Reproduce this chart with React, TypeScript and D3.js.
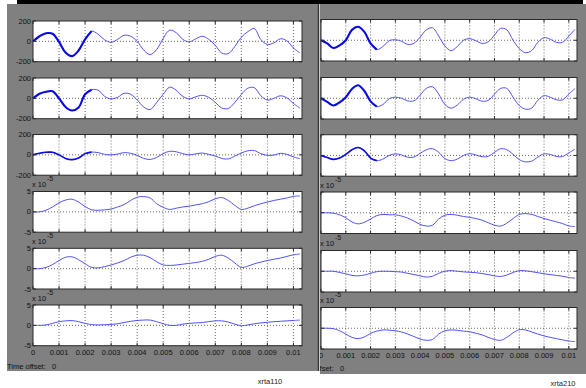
import { useEffect, useRef } from 'react';
import * as d3 from 'd3';

// sample times (ms)
const timeMs = [0, 0.25, 0.5, 0.75, 1, 1.25, 1.5, 1.75, 2, 2.25, 2.5, 2.75, 3, 3.25, 3.5, 3.75, 4, 4.25, 4.5, 4.75, 5, 5.25, 5.5, 5.75, 6, 6.25, 6.5, 6.75, 7, 7.25, 7.5, 7.75, 8, 8.25, 8.5, 8.75, 9, 9.25, 9.5, 9.75, 10, 10.25];

// scope xrta110
const left1 = [0, 50, 80, 75, -5, -110, -145, -90, 20, 100, 70, 15, -10, 20, 60, 50, 0, -85, -130, -80, 30, 110, 85, 20, -5, 25, 50, 20, -40, -115, -120, -50, 40, 95, 125, 17, -30, -15, 25, 5, -65, -115];
const left2 = [0, 45, 65, 70, 0, -85, -120, -90, 40, 85, 80, 20, -5, 10, 50, 40, -15, -85, -110, -40, 40, 110, 80, 20, -5, 15, 30, 10, -40, -95, -100, -40, 37, 100, 105, 25, -17, 0, 25, 5, -50, -95];
const left3 = [0, 15, 25, 25, 0, -35, -47, -30, 12, 27, 22, 5, 0, 8, 22, 15, -5, -35, -45, -25, 12, 35, 30, 12, 0, 10, 18, 5, -12, -35, -40, -12, 18, 40, 42, 12, -5, -2, 15, 5, -20, -38];
const left4 = [0, 0, 0.4, 1.2, 2.2, 2.9, 3.1, 2.4, 1.3, 0.5, 0.4, 0.5, 0.7, 1.2, 1.8, 2.8, 3.6, 3.75, 3.4, 2.0, 1.1, 0.6, 0.9, 1.2, 1.4, 1.7, 2.0, 2.5, 3.2, 3.5, 2.8, 1.6, 0.6, 0.9, 1.5, 2.0, 2.4, 2.8, 3.1, 3.4, 3.8, 3.9];
const left5 = [0, 0, 0.3, 1.0, 2.0, 2.8, 2.9, 2.2, 1.2, 0.3, 0.2, 0.5, 0.9, 1.4, 2.0, 2.8, 3.3, 3.3, 2.7, 1.7, 0.9, 0.8, 0.9, 1.1, 1.3, 1.5, 1.8, 2.3, 3.0, 3.3, 2.6, 1.4, 0.3, 0.6, 1.2, 1.6, 2.0, 2.3, 2.6, 3.0, 3.4, 3.6];
const left6 = [0, 0, 0.1, 0.5, 0.9, 1.1, 1.17, 0.9, 0.5, 0.2, 0.1, 0.15, 0.2, 0.4, 0.7, 1.0, 1.2, 1.3, 1.3, 0.9, 0.4, 0, 0, 0.3, 0.5, 0.6, 0.7, 0.9, 1.1, 1.1, 0.8, 0.3, -0.1, 0.1, 0.4, 0.6, 0.75, 0.9, 1.0, 1.1, 1.2, 1.3];

// scope xrta210
const right1 = [0, -30, -75, -50, 0, 100, 130, 80, -30, -90, -60, -5, 5, -10, -40, -30, 30, 100, 120, 40, -55, -100, -60, 0, 15, -5, -30, -15, 50, 115, 100, 0, -80, -120, -100, -20, 25, 10, -20, -20, 40, 105];
const right2 = [0, -35, -70, -40, 10, 90, 125, 70, -30, -80, -60, -5, 10, 0, -25, -25, 30, 95, 110, 40, -60, -95, -65, -10, 10, -5, -28, -20, 40, 95, 95, 10, -70, -105, -95, -20, 25, 10, -15, -15, 40, 93];
const right3 = [0, -20, -38, -25, 10, 55, 77, 45, -25, -50, -35, 0, 15, 5, -18, -15, 20, 55, 65, 30, -30, -50, -35, 0, 17, 5, -12, -8, 30, 65, 55, 10, -40, -62, -55, -15, 15, 10, -10, -10, 25, 60];
const right4 = [0, 0, -0.1, -0.5, -1.2, -2.2, -2.67, -2.3, -1.5, -0.7, -0.4, -0.5, -0.5, -0.8, -1.3, -2.0, -2.8, -3.2, -3.0, -1.5, -0.6, -0.4, -0.6, -0.9, -1.1, -1.4, -1.8, -2.4, -3.0, -3.2, -2.5, -1.4, -0.4, -0.2, -0.4, -0.9, -1.4, -1.8, -2.2, -2.6, -3.2, -3.3];
const right5 = [0, 0, 0, -0.3, -0.6, -1.0, -1.1, -0.9, -0.5, -0.1, 0, 0, -0.1, -0.2, -0.5, -0.8, -1.1, -1.4, -1.2, -0.5, 0, 0.15, 0, -0.15, -0.25, -0.35, -0.55, -0.8, -1.1, -1.25, -0.9, -0.3, 0.15, 0.1, -0.1, -0.35, -0.6, -0.8, -1.0, -1.2, -1.5, -1.67];
const right6 = [0, 0, -0.1, -0.6, -1.4, -2.2, -2.5, -2.1, -1.25, -0.7, -0.4, -0.45, -0.6, -0.9, -1.4, -2.0, -2.6, -2.9, -2.7, -1.4, -0.6, -0.4, -0.5, -0.7, -0.85, -1.2, -1.6, -2.2, -2.7, -2.9, -2.2, -1.1, -0.35, -0.4, -0.9, -1.4, -1.85, -2.2, -2.5, -2.8, -3.1, -3.2];

const bigTicks = [-200, 0, 200];
const smallTicks = [-5, 0, 5];
const xTicks = [0, 0.001, 0.002, 0.003, 0.004, 0.005, 0.006, 0.007, 0.008, 0.009, 0.01];
const xTickLabels = ['0', '0.001', '0.002', '0.003', '0.004', '0.005', '0.006', '0.007', '0.008', '0.009', '0.01'];
const noisyUntilMs = 2.4;

const W = 586;
const H = 388;

export default function App() {
  const ref = useRef<SVGSVGElement>(null);

  useEffect(() => {
    const svg = d3.select(ref.current);
    svg.selectAll('*').remove();
    const font = '"Liberation Sans", Arial, sans-serif';

    svg.append('rect').attr('width', W).attr('height', H).attr('fill', '#fff');

    const scopes = [
      {
        name: 'xrta210', series: [right1, right2, right3, right4, right5, right6],
        x0: 321, x1: 577, tops: [19.5, 77.5, 134.7, 192, 250.5, 307.5], h: 41.5,
        bg: [319, 4, 267, 370], labelY: 357.5, offsetY: 371, titleX: 563, titleY: 386, clip: true,
      },
      {
        name: 'xrta110', series: [left1, left2, left3, left4, left5, left6],
        x0: 33, x1: 302, tops: [21, 78, 134.5, 191.5, 248.3, 305], h: 40.7,
        bg: [7, 4, 312, 367], labelY: 354.5, offsetY: 368.5, titleX: 270, titleY: 384, clip: false,
      },
    ];

    svg.append('clipPath').attr('id', 'rightClip')
      .append('rect').attr('x', 320).attr('y', 0).attr('width', W - 320).attr('height', H);

    scopes.forEach((sc, si) => {
      const g = svg.append('g');
      if (sc.clip) g.attr('clip-path', 'url(#rightClip)');

      g.append('rect')
        .attr('x', sc.bg[0]).attr('y', sc.bg[1])
        .attr('width', sc.bg[2]).attr('height', sc.bg[3])
        .attr('fill', '#808080');

      const x = d3.scaleLinear().domain([0, 0.01033]).range([sc.x0, sc.x1]);

      sc.series.forEach((vals, i) => {
        const top = sc.tops[i];
        const small = i >= 3;
        const ticks = small ? smallTicks : bigTicks;
        const y = d3.scaleLinear().domain(small ? [-5, 5] : [-200, 200]).range([top + sc.h, top]);
        const p = g.append('g');

        p.append('rect')
          .attr('x', sc.x0).attr('y', top)
          .attr('width', sc.x1 - sc.x0).attr('height', sc.h)
          .attr('fill', '#fff');

        // dotted grid
        p.selectAll('.vg').data(xTicks.slice(1)).join('line')
          .attr('x1', d => x(d)).attr('x2', d => x(d))
          .attr('y1', top).attr('y2', top + sc.h)
          .attr('stroke', '#444').attr('stroke-width', 0.8).attr('stroke-dasharray', '1,2');
        p.append('line')
          .attr('x1', sc.x0).attr('x2', sc.x1)
          .attr('y1', y(0)).attr('y2', y(0))
          .attr('stroke', '#444').attr('stroke-width', 0.8).attr('stroke-dasharray', '1,2');

        const pts = timeMs.map((t, k) => [t / 1000, vals[k]] as [number, number]);
        const line = d3.line<[number, number]>()
          .x(d => x(d[0]))
          .y(d => y(d[1]))
          .curve(d3.curveCatmullRom);

        p.append('path')
          .attr('d', line(pts))
          .attr('fill', 'none')
          .attr('stroke', '#5050ff')
          .attr('stroke-width', 1);

        // noisy start of the signal: thicker, darker trace
        if (!small) {
          p.append('path')
            .attr('d', line(pts.filter(d => d[0] * 1000 <= noisyUntilMs)))
            .attr('fill', 'none')
            .attr('stroke', '#0a0ae8')
            .attr('stroke-width', i === 2 ? 1.6 : 2.1);
        }

        // box and ticks
        p.append('rect')
          .attr('x', sc.x0).attr('y', top)
          .attr('width', sc.x1 - sc.x0).attr('height', sc.h)
          .attr('fill', 'none').attr('stroke', '#2a2a2a').attr('stroke-width', 1);
        xTicks.forEach(t => {
          p.append('line').attr('x1', x(t)).attr('x2', x(t)).attr('y1', top).attr('y2', top + 3).attr('stroke', '#2a2a2a');
          p.append('line').attr('x1', x(t)).attr('x2', x(t)).attr('y1', top + sc.h - 3).attr('y2', top + sc.h).attr('stroke', '#2a2a2a');
        });
        ticks.forEach(t => {
          p.append('line').attr('x1', sc.x0).attr('x2', sc.x0 + 3).attr('y1', y(t)).attr('y2', y(t)).attr('stroke', '#2a2a2a');
          p.append('line').attr('x1', sc.x1 - 3).attr('x2', sc.x1).attr('y1', y(t)).attr('y2', y(t)).attr('stroke', '#2a2a2a');
        });

        p.selectAll('.yl').data(ticks).join('text')
          .attr('x', sc.x0 - 2).attr('y', d => y(d) + 2.6)
          .attr('text-anchor', 'end')
          .attr('font-family', font).attr('font-size', 7.5).attr('fill', '#111')
          .text(d => String(d));

        if (small) {
          p.append('text')
            .attr('x', sc.x0 - 1).attr('y', top - 4.5)
            .attr('font-family', font).attr('font-size', 7.5).attr('fill', '#111')
            .text('x 10');
          p.append('text')
            .attr('x', sc.x0 + 14).attr('y', top - 10.5)
            .attr('font-family', font).attr('font-size', 7).attr('fill', '#111')
            .text('-5');
        }
      });

      g.selectAll('.xl').data(xTicks).join('text')
        .attr('x', (d) => x(d)).attr('y', sc.labelY)
        .attr('text-anchor', 'middle')
        .attr('font-family', font).attr('font-size', 7.5).attr('fill', '#111')
        .text((d, k) => xTickLabels[k]);

      g.append('text')
        .attr('x', sc.x0 - 26).attr('y', sc.offsetY)
        .attr('font-family', font).attr('font-size', 7.5).attr('fill', '#111')
        .attr('xml:space', 'preserve')
        .text('Time offset:   0');

      svg.append('text')
        .attr('x', sc.titleX).attr('y', sc.titleY)
        .attr('text-anchor', 'middle')
        .attr('font-family', font).attr('font-size', 7.5).attr('fill', '#222')
        .text(sc.name);

      if (si === 1) {
        svg.append('line')
          .attr('x1', 318.5).attr('x2', 318.5).attr('y1', 4).attr('y2', 371)
          .attr('stroke', '#333').attr('stroke-width', 1.5);
      }
    });

    // black strip along the top
    svg.append('rect').attr('x', 17).attr('y', 0).attr('width', 566).attr('height', 4).attr('fill', '#000');
  }, []);

  return (
    <div style={{ position: 'fixed', left: 0, top: 0 }}>
      <svg ref={ref} width={W} height={H} style={{ display: 'block' }} />
    </div>
  );
}
